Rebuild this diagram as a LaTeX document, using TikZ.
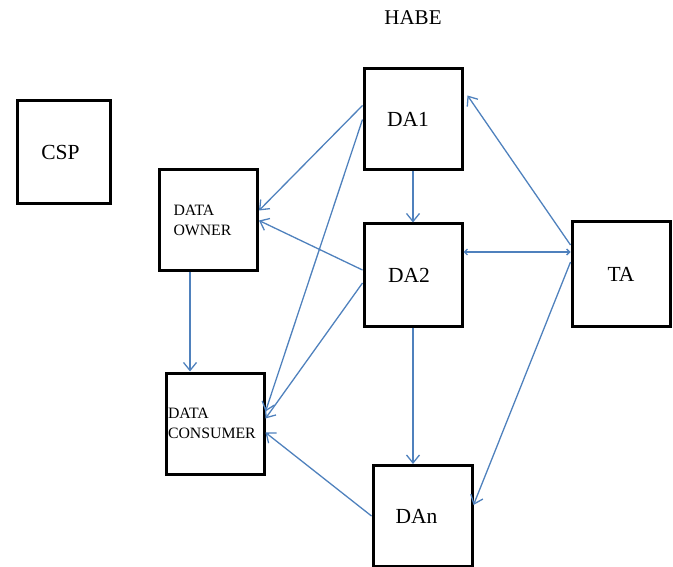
\documentclass[tikz,border=0pt]{standalone}
\usepackage{fontspec}
\setmainfont{Liberation Serif}
\usetikzlibrary{arrows.meta}
\definecolor{linkblue}{RGB}{79,129,189}
\begin{document}
\begin{tikzpicture}[x=1pt,y=-1pt,
    box/.style={draw,line width=3pt,minimum width=98pt,minimum height=101pt,font=\fontsize{21.5}{23}\selectfont},
    databox/.style={box,align=left,font=\fontsize{15.8}{20}\selectfont},
    flow/.style={linkblue,line width=1.3pt,-{Straight Barb[length=8pt,width=13pt]}},
    link/.style={linkblue,line width=1.3pt,{Straight Barb[length=3pt,width=6pt]}-{Straight Barb[length=3pt,width=6pt]}}]
  \useasboundingbox (0,0) rectangle (673,567);
  % ------ boxes -----------------------------
  \node (habe) at (413,18) {\fontsize{21}{23}\selectfont HABE};
  \node[box,minimum width=93pt,minimum height=103pt] (csp) at (63.5,152.5) {CSP\hspace*{6pt}};
  \node[databox,text width=70pt,inner xsep=14pt] (owner) at (208.5,220.5) {DATA\\OWNER};
  \node[databox,text width=94pt,inner xsep=2pt] (consumer) at (215,423.5) {DATA\\CONSUMER};
  \node[box] (da1) at (413,119.5) {DA1\hspace*{10pt}};
  \node[box,minimum height=102pt] (da2) at (413,275) {DA2\hspace*{8pt}};
  \node[box,minimum width=99pt] (dan) at (422.5,516) {DAn\hspace*{12pt}};
  \node[box,minimum height=104pt] (ta) at (621,274) {TA};
  % ------ arrows -----------------------------
  \draw[flow] ([yshift=14pt]da1.west) -- ([yshift=10pt]owner.east);
  \draw[flow] (da1.west) -- ([yshift=12pt]consumer.east);
  \draw[flow] ([yshift=5pt]da2.west) -- (owner.east);
  \draw[flow] ([yshift=-8pt]da2.west) -- ([yshift=5pt]consumer.east);
  \draw[flow] (dan.west) -- ([yshift=-9pt]consumer.east);
  \draw[flow] ([xshift=-18.5pt]owner.south) -- ([xshift=-25pt]consumer.north);
  \draw[flow] (da1.south) -- (da2.north);
  \draw[flow] (da2.south) -- ([xshift=-9.5pt]dan.north);
  \draw[flow] ([yshift=29pt]ta.west) -- ([xshift=4pt,yshift=24pt]da1.east);
  \draw[flow] ([yshift=12pt]ta.west) -- ([yshift=11pt]dan.east);
  \draw[link] ([yshift=22pt]ta.west) -- ([yshift=23pt]da2.east);
\end{tikzpicture}
\end{document}
